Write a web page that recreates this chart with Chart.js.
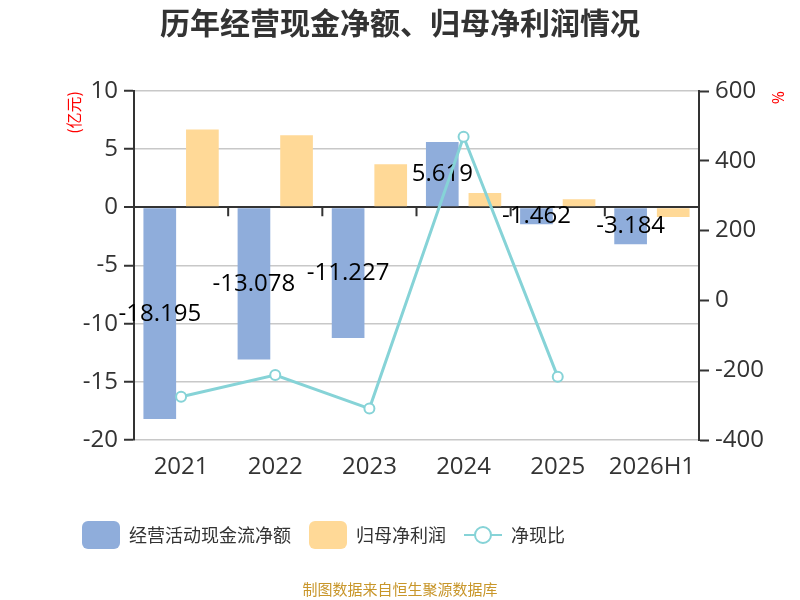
<!DOCTYPE html>
<html>
<head>
<meta charset="utf-8">
<script src="https://cdn.jsdelivr.net/npm/chart.js@4.4.0/dist/chart.umd.min.js"></script>
<style>
  html, body { margin: 0; padding: 0; background: #fff; }
</style>
</head>
<body>
<canvas id="myChart" width="800" height="600"></canvas>
<script>
// DATOS
const years = ['2021', '2022', '2023', '2024', '2025', '2026H1'];
const xianjinLiu = [-18.195, -13.078, -11.227, 5.619, -1.462, -3.184];   // 经营活动现金流净额 (亿元)
const guimuLirun = [6.70, 6.20, 3.70, 1.23, 0.69, -0.83];                // 归母净利润 (亿元)
const jingXianBi = [-276, -214, -310, 469, -219, null];                  // 净现比 (%)
const leftTicks = [-20, -15, -10, -5, 0, 5, 10];
const rightTicks = [-400, -200, 0, 200, 400, 600];

const azul = '#8faddb';
const naranja = '#ffd997';
const turquesa = '#86d3d7';
const gris = '#333';
const fuente = '"Open Sans", "Noto Sans CJK SC", sans-serif';
const fuenteCjk = '"Noto Sans CJK SC", sans-serif';

Chart.defaults.font.family = fuente;
Chart.defaults.color = gris;

// iconos de la leyenda
const iconoCaja = (color) => {
    const c = document.createElement('canvas');
    c.width = 38; c.height = 28;
    const g = c.getContext('2d');
    g.fillStyle = color;
    g.beginPath();
    g.roundRect(0, 0, 38, 28, 6);
    g.fill();
    return c;
}
const iconoLinea = () => {
    const c = document.createElement('canvas');
    c.width = 38; c.height = 28;
    const g = c.getContext('2d');
    g.strokeStyle = turquesa;
    g.lineWidth = 2;
    g.beginPath(); g.moveTo(0, 14); g.lineTo(38, 14); g.stroke();
    g.fillStyle = '#fff';
    g.beginPath(); g.arc(19, 14, 8, 0, Math.PI * 2); g.fill(); g.stroke();
    return c;
}
const iconos = [iconoCaja(azul), iconoCaja(naranja), iconoLinea()];

// titulo, fuente, etiquetas de las barras azules y marcas en la linea cero
const extras = {
    id: 'extras',
    afterDatasetDraw(chart, args) {
        if (args.index !== 0) return;
        const ctx = chart.ctx;
        ctx.save();
        ctx.font = '24px ' + fuente;
        ctx.fillStyle = '#000';
        ctx.textAlign = 'center';
        ctx.textBaseline = 'middle';
        args.meta.data.forEach((bar, i) => {
            ctx.fillText(xianjinLiu[i].toFixed(3), bar.x, (bar.y + bar.base) / 2);
        });
        ctx.restore();
    },
    beforeDatasetsDraw(chart) {
        const ctx = chart.ctx;
        const x = chart.scales.x;
        const y0 = chart.scales.y.getPixelForValue(0);
        const w = x.getPixelForValue(1) - x.getPixelForValue(0);
        ctx.save();
        ctx.strokeStyle = gris;
        ctx.lineWidth = 2;
        ctx.beginPath();
        for (let i = 1; i < years.length; i++) {
            const px = x.getPixelForValue(i) - w / 2;
            ctx.moveTo(px, y0);
            ctx.lineTo(px, y0 + 9);
        }
        ctx.stroke();
        ctx.restore();
    },
    afterDraw(chart) {
        const ctx = chart.ctx;
        ctx.save();
        ctx.textAlign = 'center';
        ctx.textBaseline = 'middle';
        ctx.font = 'bold 30px ' + fuenteCjk;
        ctx.fillStyle = gris;
        ctx.fillText('历年经营现金净额、归母净利润情况', chart.width / 2, 23);
        ctx.font = '15px ' + fuenteCjk;
        ctx.fillStyle = '#c8962a';
        ctx.fillText('制图数据来自恒生聚源数据库', chart.width / 2, 589);
        ctx.restore();
    }
}

const ctx = document.getElementById('myChart');

const myChart = new Chart(ctx, {
    type: 'bar',
    data: {
        labels: years,
        datasets: [{
            label: '经营活动现金流净额',
            data: xianjinLiu,
            backgroundColor: azul,
            yAxisID: 'y',
            order: 1
        }, {
            label: '归母净利润',
            data: guimuLirun,
            backgroundColor: naranja,
            yAxisID: 'y',
            order: 1
        }, {
            type: 'line',
            label: '净现比',
            data: jingXianBi,
            borderColor: turquesa,
            borderWidth: 3,
            pointRadius: 5,
            pointBorderWidth: 2,
            pointBackgroundColor: '#fff',
            pointBorderColor: turquesa,
            yAxisID: 'y1',
            order: 0
        }]
    },
    options: {
        responsive: false,
        animation: false,
        categoryPercentage: 0.905,
        barPercentage: 0.767,
        layout: { padding: { left: 64, right: 14, bottom: 46, top: 91 } },
        plugins: {
            title: { display: false },
            legend: {
                position: 'bottom',
                align: 'start',
                labels: {
                    usePointStyle: true,
                    pointStyleWidth: 38,
                    boxHeight: 28,
                    padding: 18,
                    font: { size: 18, family: fuenteCjk },
                    color: gris,
                    generateLabels: (chart) => chart.data.datasets.map((ds, i) => ({
                        text: ds.label,
                        pointStyle: iconos[i],
                        datasetIndex: i,
                        fillStyle: 'transparent',
                        strokeStyle: 'transparent',
                        lineWidth: 0,
                        fontColor: gris
                    }))
                }
            },
            tooltip: { enabled: false }
        },
        scales: {
            x: {
                grid: { display: false, drawTicks: false },
                border: { display: false },
                ticks: { font: { size: 24 }, padding: 13, color: gris },
                afterFit: (s) => { s.height = 68; }
            },
            y: {
                position: 'left',
                min: -20,
                max: 10,
                afterBuildTicks: (s) => { s.ticks = leftTicks.map(v => ({ value: v })); },
                afterFit: (s) => { s.width = 70; },
                grid: {
                    color: (c) => c.tick && c.tick.value === 0 ? gris : '#c8c8c8',
                    lineWidth: (c) => c.tick && c.tick.value === 0 ? 2 : 1.5,
                    tickColor: gris,
                    tickLength: 10,
                    tickWidth: 2
                },
                border: { display: true, color: gris, width: 2 },
                ticks: { font: { size: 24 }, padding: 6, color: gris },
                title: {
                    display: true,
                    text: '(亿元)',
                    align: 'end',
                    color: '#ff0000',
                    font: { size: 16, family: fuenteCjk },
                    padding: { top: 0, bottom: 0 }
                }
            },
            y1: {
                position: 'right',
                min: -400,
                max: 600,
                afterBuildTicks: (s) => { s.ticks = rightTicks.map(v => ({ value: v })); },
                afterFit: (s) => { s.width = 87; },
                grid: {
                    drawOnChartArea: false,
                    tickColor: gris,
                    tickLength: 10,
                    tickWidth: 2
                },
                border: { display: true, color: gris, width: 2 },
                ticks: { font: { size: 24 }, padding: 6, color: gris },
                title: {
                    display: true,
                    text: '%',
                    align: 'end',
                    color: '#ff0000',
                    font: { size: 16 },
                    padding: { top: 0, bottom: 0 }
                }
            }
        }
    },
    plugins: [extras]
});
</script>
</body>
</html>
